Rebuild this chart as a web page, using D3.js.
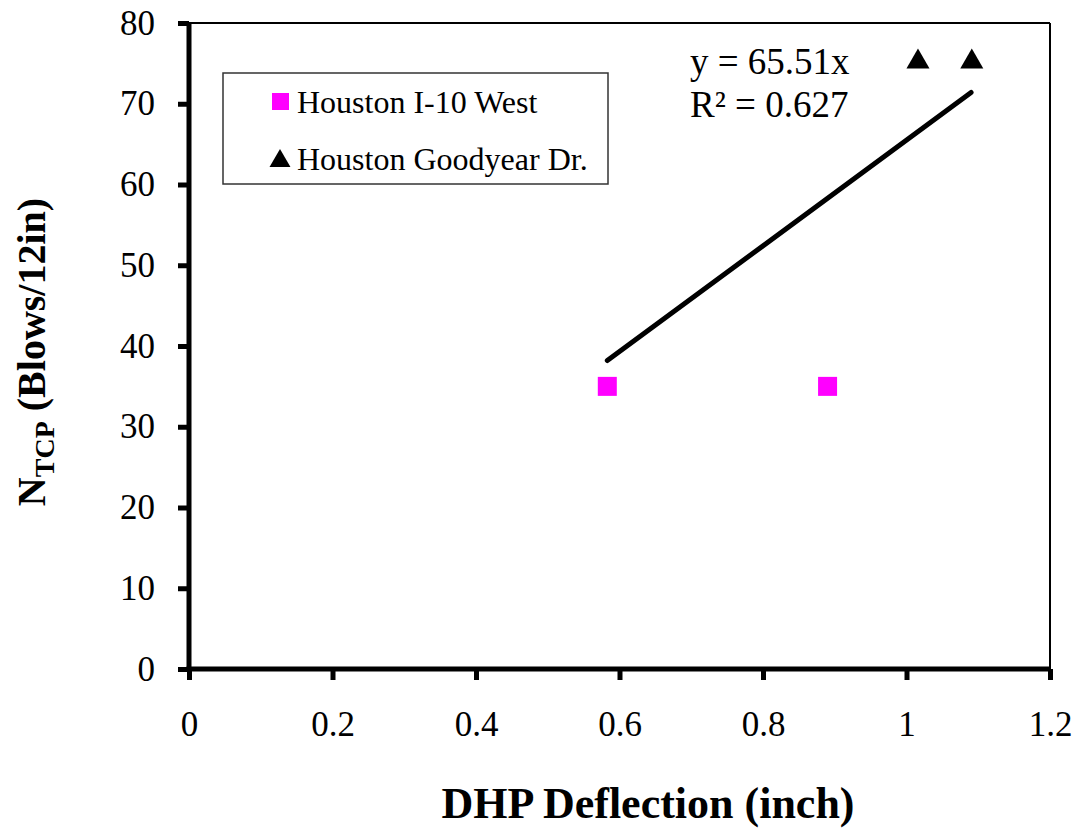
<!DOCTYPE html>
<html><head><meta charset="utf-8">
<script src="https://cdn.jsdelivr.net/npm/d3@7"></script>
<style>body{margin:0;background:#fff}svg{display:block}text{font-family:"Liberation Serif","Times New Roman",serif}</style>
</head><body>
<svg id="c" width="1077" height="831"></svg>
<script>
const xTicks = [0, 0.2, 0.4, 0.6, 0.8, 1, 1.2];
const yTicks = [0, 10, 20, 30, 40, 50, 60, 70, 80];
const i10West = [[0.583, 35], [0.890, 35]];
const goodyear = [[1.016, 75.2], [1.091, 75.2]];
const slope = 65.51;
const trendX = [0.583, 1.09];
const seriesNames = ["Houston I-10 West", "Houston Goodyear Dr."];
const eqLines = ["y = 65.51x", "R² = 0.627"];

const svg = d3.select("#c");
const L = 189, R = 1050, T = 23, B = 669;
const x = d3.scaleLinear().domain([0, 1.2]).range([L, R]);
const y = d3.scaleLinear().domain([0, 80]).range([B, T]);

// top & right thin borders
svg.append("line").attr("x1", L).attr("x2", R).attr("y1", T).attr("y2", T).attr("stroke", "#000").attr("stroke-width", 2);
svg.append("line").attr("x1", R).attr("x2", R).attr("y1", T).attr("y2", B).attr("stroke", "#000").attr("stroke-width", 2);

const xa = svg.append("g").attr("transform", `translate(0,${B})`)
  .call(d3.axisBottom(x).tickValues(xTicks).tickSize(11).tickSizeOuter(0).tickPadding(31).tickFormat(d => d3.format("")(d)));
const ya = svg.append("g").attr("transform", `translate(${L},0)`)
  .call(d3.axisLeft(y).tickValues(yTicks).tickSize(11).tickSizeOuter(0).tickPadding(23));
[xa, ya].forEach(a => {
  a.attr("font-family", null).attr("font-size", null);
  a.select(".domain").attr("stroke", "#000").attr("stroke-width", 5);
  a.selectAll(".tick line").attr("stroke", "#000").attr("stroke-width", 5);
  a.selectAll("text").attr("font-family", "Liberation Serif").attr("font-size", 35).attr("fill", "#000");
});
ya.select(".domain").attr("d", `M0,${B+2.5}V${T}`);
xa.select(".domain").attr("d", `M${-2.5 + L},0H${R + 1}`);

// trendline
svg.append("line").attr("x1", x(trendX[0])).attr("y1", y(slope * trendX[0]))
  .attr("x2", x(trendX[1])).attr("y2", y(slope * trendX[1]))
  .attr("stroke", "#000").attr("stroke-width", 5).attr("stroke-linecap", "round");

// points
const sq = 19;
svg.selectAll(".sq").data(i10West).enter().append("rect")
  .attr("x", d => x(d[0]) - sq / 2).attr("y", d => y(d[1]) - sq / 2)
  .attr("width", sq).attr("height", sq).attr("fill", "#ff00ff");
const tri = d3.symbol().type(d3.symbolTriangle).size(230);
svg.selectAll(".tri").data(goodyear).enter().append("path")
  .attr("d", tri).attr("transform", d => `translate(${x(d[0])},${y(d[1])})`).attr("fill", "#000");

// equation
svg.selectAll(".eq").data(eqLines).enter().append("text")
  .attr("x", 690).attr("y", (d, i) => 74 + i * 43).attr("font-size", 37).text(d => d);

// legend
svg.append("rect").attr("x", 223).attr("y", 73).attr("width", 385).attr("height", 111)
  .attr("fill", "#fff").attr("stroke", "#333").attr("stroke-width", 1.5);
svg.append("rect").attr("x", 272).attr("y", 93).attr("width", 17).attr("height", 17).attr("fill", "#ff00ff");
svg.append("path").attr("d", d3.symbol().type(d3.symbolTriangle).size(190)).attr("transform", "translate(280,161)").attr("fill", "#000");
svg.selectAll(".lg").data(seriesNames).enter().append("text")
  .attr("x", 297).attr("y", (d, i) => 113 + i * 57).attr("font-size", 32).text(d => d);

// axis titles
svg.append("text").attr("x", 648).attr("y", 818).attr("text-anchor", "middle")
  .attr("font-size", 44).attr("font-weight", "bold").text("DHP Deflection (inch)");
const yt = svg.append("text").attr("transform", "translate(45,352) rotate(-90)").attr("text-anchor", "middle")
  .attr("font-size", 40).attr("font-weight", "bold");
yt.append("tspan").text("N");
yt.append("tspan").attr("font-size", 28).attr("dy", 9).text("TCP");
yt.append("tspan").attr("dy", -9).text(" (Blows/12in)");
</script>
</body></html>
